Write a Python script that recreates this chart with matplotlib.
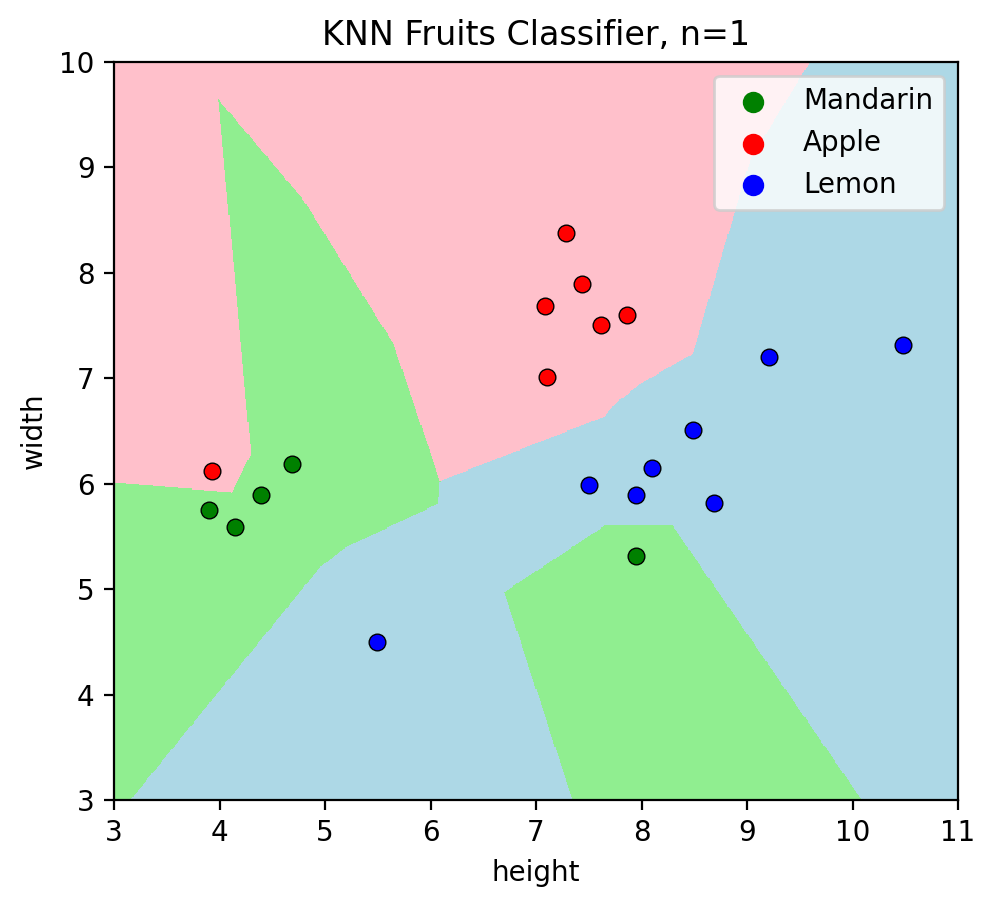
import numpy as np
import matplotlib
matplotlib.use("Agg")
import matplotlib.pyplot as plt
from matplotlib.colors import ListedColormap

mandarin_h = [3.90, 4.15, 4.39, 4.69, 7.95]
mandarin_w = [5.75, 5.59, 5.89, 6.19, 5.31]
apple_h = [3.93, 7.28, 7.44, 7.09, 7.62, 7.86, 7.10]
apple_w = [6.12, 8.38, 7.89, 7.69, 7.51, 7.60, 7.01]
lemon_h = [5.49, 7.50, 7.95, 8.10, 8.49, 8.69, 9.21, 10.48]
lemon_w = [4.50, 5.99, 5.89, 6.15, 6.51, 5.82, 7.20, 7.32]

names = ["Mandarin", "Apple", "Lemon"]
point_colors = ["green", "red", "blue"]
region_colors = ["lightgreen", "pink", "lightblue"]
n_neighbors = 1

X = np.array(list(zip(mandarin_h + apple_h + lemon_h, mandarin_w + apple_w + lemon_w)))
y = np.array([0] * len(mandarin_h) + [1] * len(apple_h) + [2] * len(lemon_h))

# 1-NN prediction on a mesh
h = 0.01
xx, yy = np.meshgrid(np.arange(3, 11 + h, h), np.arange(3, 10 + h, h))
grid = np.c_[xx.ravel(), yy.ravel()]
d = ((grid[:, None, :] - X[None, :, :]) ** 2).sum(axis=2)
Z = y[np.argmin(d, axis=1)].reshape(xx.shape)

fig = plt.figure(figsize=(4.98, 4.54), dpi=200)
ax = fig.add_axes([114 / 996, 1 - 800 / 908, 844 / 996, 738 / 908])
ax.pcolormesh(xx, yy, Z, cmap=ListedColormap(region_colors), shading="nearest", vmin=0, vmax=2)

groups = [(mandarin_h, mandarin_w), (apple_h, apple_w), (lemon_h, lemon_w)]
for (hs, ws), c, name in zip(groups, point_colors, names):
    ax.scatter(hs, ws, c=c, s=36, edgecolor="black", linewidth=0.5, zorder=3)
    ax.scatter([], [], c=c, s=45, label=name)

ax.set_xlim(3, 11)
ax.set_ylim(3, 10)
ax.set_xlabel("height")
ax.set_ylabel("width")
ax.set_title("KNN Fruits Classifier, n=%d" % n_neighbors)
ax.legend(loc="upper right")

fig.savefig("out.png", dpi=200)
